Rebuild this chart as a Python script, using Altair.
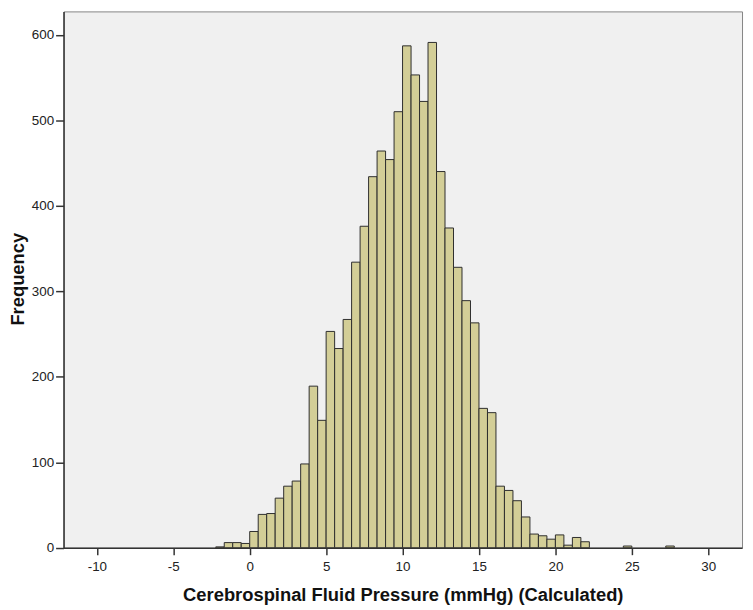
import altair as alt
import pandas as pd

# Histogram bins (SPSS style): bin width = 5/9 mmHg, bins indexed from 0 mmHg
bin_width = 5 / 9
bin_index = [-4, -3, -2, -1, 0, 1, 2, 3, 4, 5, 6, 7, 8, 9, 10, 11, 12, 13, 14,
             15, 16, 17, 18, 19, 20, 21, 22, 23, 24, 25, 26, 27, 28, 29, 30,
             31, 32, 33, 34, 35, 36, 37, 38, 39, 44, 49]
counts = [1, 6, 6, 5, 19, 39, 40, 58, 72, 78, 98, 189, 149, 253, 233, 267, 334,
          376, 434, 464, 454, 510, 587, 553, 522, 591, 440, 374, 328, 289, 263,
          163, 158, 72, 67, 55, 36, 16, 14, 10, 15, 3, 12, 7, 2, 2]

x_ticks = [-10, -5, 0, 5, 10, 15, 20, 25, 30]
y_ticks = [0, 100, 200, 300, 400, 500, 600]

x_title = "Cerebrospinal Fluid Pressure (mmHg) (Calculated)"
y_title = "Frequency"

df = pd.DataFrame({"idx": bin_index, "count": counts})
df["start"] = df["idx"] * bin_width
df["end"] = (df["idx"] + 1) * bin_width

FONT = "Liberation Sans"

chart = alt.Chart(df).mark_bar(
    fill="#D3CE97", stroke="#2e2e2e", strokeWidth=1
).encode(
    x=alt.X(
        "start:Q",
        scale=alt.Scale(domain=[-12.18, 32.21], nice=False, zero=False),
        axis=alt.Axis(
            values=x_ticks, title=x_title, labelExpr="datum.value + ''",
            tickSize=7, labelPadding=5, titleY=53.6, titleBaseline="alphabetic",
        ),
    ),
    x2="end:Q",
    y=alt.Y(
        "count:Q",
        scale=alt.Scale(domain=[0, 627.3], nice=False),
        axis=alt.Axis(
            values=y_ticks, title=y_title, labelExpr="datum.value + ''",
            tickSize=8, labelPadding=2, titleAngle=270, titleX=-40,
            titleY=269.5, titleBaseline="alphabetic",
        ),
    ),
    y2=alt.datum(0),
).properties(
    width=684,
    height=540.7,
    autosize=alt.AutoSizeParams(type="none"),
    padding={"left": 56, "top": 1, "right": 3, "bottom": 57},
).configure_view(
    fill="#F0F0F0", stroke="#858585", strokeWidth=1
).configure_axis(
    grid=False,
    labelFont=FONT, labelFontSize=13.5, labelColor="#222222",
    titleFont=FONT, titleFontSize=18.5, titleFontWeight="bold", titleColor="#111111",
    domainColor="#333333", domainWidth=1.5, tickColor="#333333", tickWidth=1.5,
)

chart.save("out.html", embed_options={"renderer": "svg", "actions": False})
